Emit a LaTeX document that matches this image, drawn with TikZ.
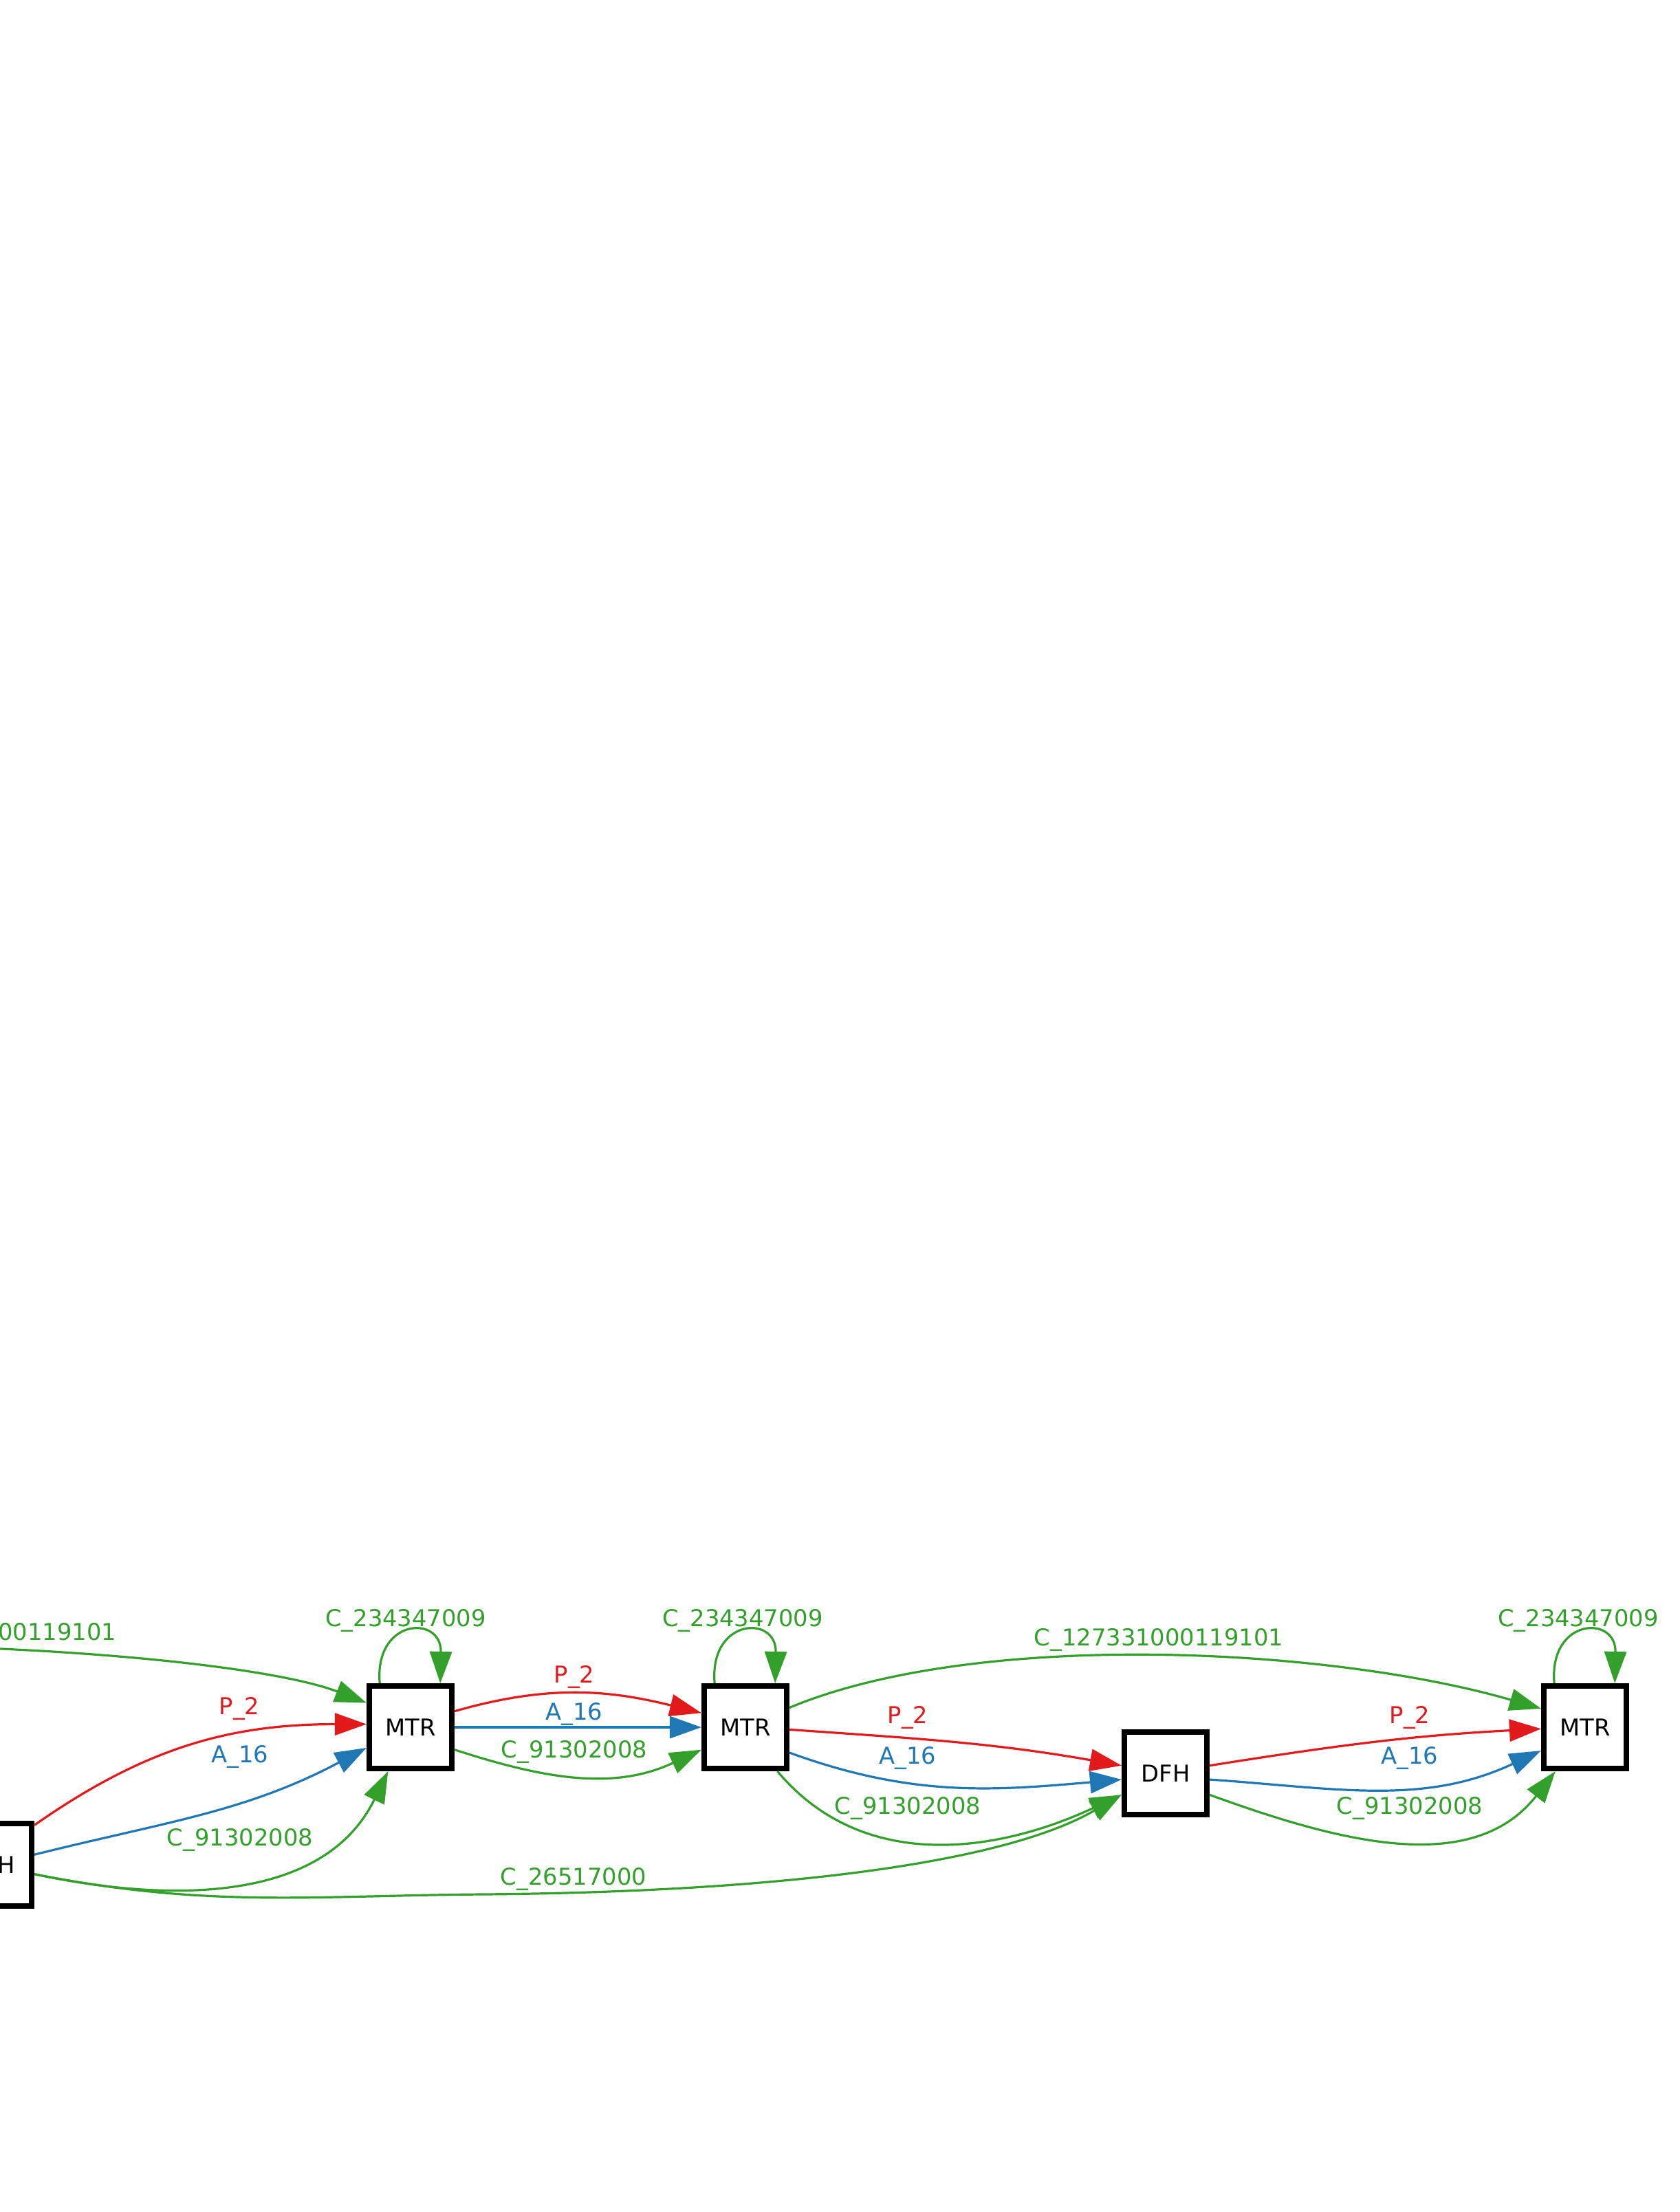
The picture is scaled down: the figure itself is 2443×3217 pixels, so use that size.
\documentclass[tikz,border=0pt]{standalone}
\usepackage{fontspec}
\setmainfont{DejaVu Sans}
\usetikzlibrary{arrows.meta, positioning, calc}
\definecolor{linkred}{HTML}{E31A1C}
\definecolor{linkblue}{HTML}{1F78B4}
\definecolor{linkgreen}{HTML}{33A02C}
\tikzstyle{gene} = [rectangle, draw=black, line width=0.08cm, minimum width=1.2cm, minimum height=1.2cm, inner sep=0pt, fill=white, text centered, font=\fontsize{9.6}{11}\selectfont]
\tikzstyle{lbl} = [inner sep=0pt, text depth=0pt, font=\fontsize{9.6}{11}\selectfont]
\tikzset{
	EARROW/.style={line width=0.032cm, arrows={-Triangle[length=0.46cm, width=0.32cm]}}
}

\begin{document}
\begin{tikzpicture}[x=0.01cm, y=0.01cm]
	\useasboundingbox (0,0) rectangle (2443,-3217);
	\node (dfha) [gene] at (-14,-2712) {DFH};
	\node (mtra) [gene] at (597,-2512) {MTR};
	\node (mtrb) [gene] at (1084,-2512) {MTR};
	\node (dfhb) [gene] at (1695,-2579) {DFH};
	\node (mtrc) [gene] at (2305,-2512) {MTR};
	\coordinate (offleft) at (-260,-2392);

	% self loops
	\draw [EARROW, linkgreen] (mtra.125) .. controls +(-8,95) and +(2,100) .. (mtra.56);
	\draw [EARROW, linkgreen] (mtrb.125) .. controls +(-8,95) and +(2,100) .. (mtrb.56);
	\draw [EARROW, linkgreen] (mtrc.125) .. controls +(-8,95) and +(2,100) .. (mtrc.56);
	\node (loopa) [lbl, text=linkgreen] at (590,-2353) {C\_234347009};
	\node (loopb) [lbl, text=linkgreen] at (1080,-2353) {C\_234347009};
	\node (loopc) [lbl, text=linkgreen] at (2295,-2353) {C\_234347009};

	% into the first MTR
	\draw [EARROW, linkgreen] (offleft) .. controls (100,-2392) and (400,-2425) .. (mtra.151);
	\node (cfara) [lbl, text=linkgreen] at (-12,-2373) {C\_127331000119101};
	\draw [EARROW, linkred] (dfha.42) to[out=35, in=180] (mtra.176);
	\node (pa) [lbl, text=linkred] at (348,-2481) {P\_2};
	\draw [EARROW, linkblue] (dfha.13) to[out=14, in=208] (mtra.205);
	\node (aa) [lbl, text=linkblue] at (349,-2551) {A\_16};
	\draw [EARROW, linkgreen] (dfha.-12) to[out=-12, in=244] (mtra.243);
	\node (ca) [lbl, text=linkgreen] at (349,-2672) {C\_91302008};
	\draw [EARROW, linkgreen] (dfha.-12) .. controls (300,-2775) and (450,-2757) .. (700,-2755)
		.. controls (1100,-2752) and (1450,-2715) .. (dfhb.206);
	\node (clong) [lbl, text=linkgreen] at (834,-2729) {C\_26517000};

	% first MTR -> second MTR
	\draw [EARROW, linkred] (mtra.20) to[out=16, in=166] (mtrb.162);
	\node (pb) [lbl, text=linkred] at (835,-2435) {P\_2};
	\draw [EARROW, linkblue] (mtra) -- (mtrb);
	\node (ab) [lbl, text=linkblue] at (835,-2489) {A\_16};
	\draw [EARROW, linkgreen] (mtra.-27) to[out=-18, in=205] (mtrb.207);
	\node (cb) [lbl, text=linkgreen] at (835,-2544) {C\_91302008};

	% second MTR -> DFH / last MTR
	\draw [EARROW, linkgreen] (mtrb.24) .. controls (1420,-2370) and (1930,-2395) .. (mtrc.157);
	\node (cfarb) [lbl, text=linkgreen] at (1685,-2381) {C\_127331000119101};
	\draw [EARROW, linkred] (mtrb.-3) to[out=-4, in=170] (dfhb.170);
	\node (pc) [lbl, text=linkred] at (1320,-2494) {P\_2};
	\draw [EARROW, linkblue] (mtrb.-30) to[out=-20, in=185] (dfhb.188);
	\node (ac) [lbl, text=linkblue] at (1320,-2553) {A\_16};
	\draw [EARROW, linkgreen] (mtrb.-54) to[out=-50, in=205] (dfhb.206);
	\node (cc) [lbl, text=linkgreen] at (1320,-2626) {C\_91302008};

	% DFH -> last MTR
	\draw [EARROW, linkred] (dfhb.10) to[out=9, in=183] (mtrc.182);
	\node (pd) [lbl, text=linkred] at (2050,-2494) {P\_2};
	\draw [EARROW, linkblue] (dfhb.-8) to[out=-4, in=205] (mtrc.208);
	\node (ad) [lbl, text=linkblue] at (2050,-2553) {A\_16};
	\draw [EARROW, linkgreen] (dfhb.-26) to[out=-20, in=232] (mtrc.236);
	\node (cd) [lbl, text=linkgreen] at (2050,-2626) {C\_91302008};
\end{tikzpicture}
\end{document}
